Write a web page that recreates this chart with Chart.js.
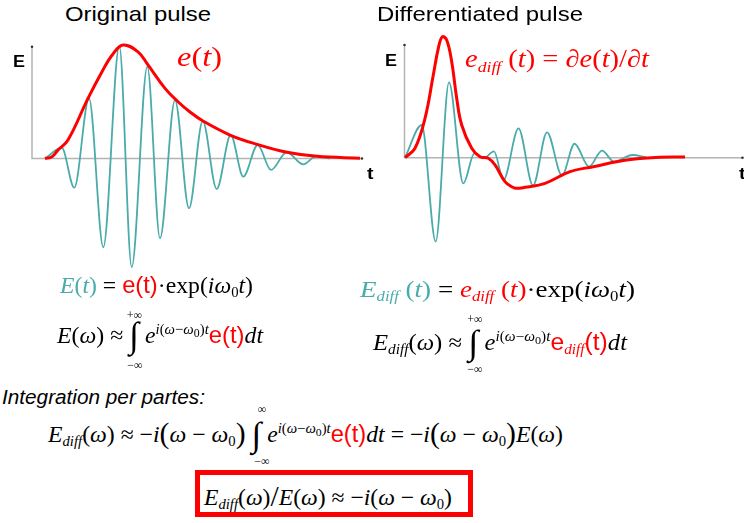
<!DOCTYPE html>
<html>
<head>
<meta charset="utf-8">
<script src="https://cdn.jsdelivr.net/npm/chart.js@4.4.0/dist/chart.umd.min.js"></script>
<style>
  html, body { margin: 0; padding: 0; background: #fff; }
  #page { position: relative; width: 744px; height: 523px; overflow: hidden; }
  canvas { position: absolute; }
  .tx { position: absolute; left: 0; top: 0; white-space: nowrap; line-height: 1; transform-origin: 0 0; color: #000; }
  .sansT { font-family: "Liberation Sans", Arial, sans-serif; }
  .m { font-family: "Liberation Serif", "Times New Roman", serif; }
  .sans { font-family: "Liberation Sans", Arial, sans-serif; font-style: normal; }
  .teal { color: #4aabab; }
  .red { color: #ff0000; }
  .sub { font-size: 0.62em; vertical-align: -0.3em; }
  .sup { font-size: 0.62em; vertical-align: 0.6em; }
  .ssub { font-size: 0.8em; vertical-align: -0.25em; }
  .int { font-size: 1.5em; vertical-align: -0.12em; }
  .bp { font-size: 1.25em; vertical-align: -0.05em; }
  .probe { display: inline-block; width: 0; height: 0; vertical-align: baseline; }
  #box { position: absolute; left: 195px; top: 470px; width: 268px; height: 37px; border: 5px solid #ff0000; }
</style>
</head>
<body>
<div id="page">
  <canvas id="origChart" width="372" height="250"></canvas>
  <canvas id="diffChart" width="364" height="232"></canvas>

  <div class="tx sansT" data-x="65" data-b="20.5" data-w="146" style="font-size:21px">Original pulse</div>
  <div class="tx sansT" data-x="377" data-b="20.5" data-w="206" style="font-size:21px">Differentiated pulse</div>
  <div class="tx sansT" data-x="13" data-b="66.7" data-w="12" style="font-size:16px;font-weight:bold">E</div>
  <div class="tx sansT" data-x="366.5" data-b="178.5" data-w="6.5" style="font-size:16px;font-weight:bold">t</div>
  <div class="tx sansT" data-x="385" data-b="66" data-w="12" style="font-size:16px;font-weight:bold">E</div>
  <div class="tx sansT" data-x="739" data-b="178.5" data-w="6.5" style="font-size:16px;font-weight:bold">t</div>

  <div class="tx m red" data-x="177" data-b="66" data-w="45" style="font-size:27px"><i>e</i>(<i>t</i>)</div>
  <div class="tx m red" data-x="465" data-b="67" data-w="184" style="font-size:25px"><i>e</i><span class="sub"><i>diff</i></span> (<i>t</i>) = ∂<i>e</i>(<i>t</i>)/∂<i>t</i></div>

  <div class="tx m" data-x="60" data-b="293" data-w="193" style="font-size:24px"><span class="teal"><i>E</i>(<i>t</i>)</span> = <span class="red sans">e(t)</span>·exp(<i>iω</i><span class="sub">0</span><i>t</i>)</div>
  <div class="tx m" data-x="57" data-b="343" data-w="206" style="font-size:24px"><i>E</i>(<i>ω</i>) ≈ <span class="int">∫</span> <i>e</i><span class="sup"><i>i</i>(<i>ω</i>−<i>ω</i><span class="ssub">0</span>)<i>t</i></span><span class="red sans">e(t)</span><i>dt</i></div>
  <div class="tx m" data-c="134.5" data-b="318.5" style="font-size:12px">+∞</div>
  <div class="tx m" data-c="135" data-b="368.5" style="font-size:12px">−∞</div>

  <div class="tx m" data-x="360" data-b="297" data-w="275" style="font-size:23px"><span class="teal"><i>E</i><span class="sub"><i>diff</i></span> (<i>t</i>)</span> = <span class="red"><i>e</i><span class="sub"><i>diff</i></span> (<i>t</i>)</span>·exp(<i>iω</i><span class="sub">0</span><i>t</i>)</div>
  <div class="tx m" data-x="373" data-b="350" data-w="254" style="font-size:23px"><i>E</i><span class="sub"><i>diff</i></span>(<i>ω</i>) ≈ <span class="int">∫</span> <i>e</i><span class="sup"><i>i</i>(<i>ω</i>−<i>ω</i><span class="ssub">0</span>)<i>t</i></span><span class="red"><span class="sans">e</span><span class="sub"><i>diff</i></span><span class="sans">(t)</span></span><i>dt</i></div>
  <div class="tx m" data-c="475" data-b="323" style="font-size:12px">+∞</div>
  <div class="tx m" data-c="475" data-b="373" style="font-size:12px">−∞</div>

  <div class="tx sansT" data-x="2" data-b="404" data-w="203" style="font-size:20px;font-style:italic">Integration per partes:</div>
  <div class="tx m" data-x="48" data-b="442" data-w="515" style="font-size:23px"><i>E</i><span class="sub"><i>diff</i></span>(<i>ω</i>) ≈ −<i>i</i><span class="bp">(</span><i>ω</i> − <i>ω</i><span class="sub">0</span><span class="bp">)</span> <span class="int">∫</span> <i>e</i><span class="sup"><i>i</i>(<i>ω</i>−<i>ω</i><span class="ssub">0</span>)<i>t</i></span><span class="red sans">e(t)</span><i>dt</i> = −<i>i</i><span class="bp">(</span><i>ω</i> − <i>ω</i><span class="sub">0</span><span class="bp">)</span><i>E</i>(<i>ω</i>)</div>
  <div class="tx m" data-c="262" data-b="413" style="font-size:12px">∞</div>
  <div class="tx m" data-c="262" data-b="465" style="font-size:12px">−∞</div>

  <div id="box"></div>
  <div class="tx m" data-x="204" data-b="505" data-w="248" style="font-size:23px"><i>E</i><span class="sub"><i>diff</i></span>(<i>ω</i>)<span class="bp">/</span><i>E</i>(<i>ω</i>) ≈ −<i>i</i>(<i>ω</i> − <i>ω</i><span class="sub">0</span>)</div>
</div>

<script>
// Original pulse: envelope e(t) and the field oscillating under it
const pulseEnvT = [1.3, 2.0, 2.6, 3.6, 5.6, 7.0, 8.0, 9.1, 10.6, 11.6, 13.3, 14.6, 15.8, 17.1, 19.8, 22.5, 25.5, 28.5, 32.8];
const pulseEnv = [0, 0.016, 0.075, 0.163, 0.53, 0.765, 0.91, 1.0, 0.94, 0.824, 0.618, 0.5, 0.41, 0.33, 0.207, 0.125, 0.055, 0.019, 0.002];
const pulseWaveT = [1.3, 2.97, 4.23, 5.7, 7.13, 8.73, 9.97, 11.53, 12.8, 14.3, 15.7, 17.07, 18.47, 19.87, 21.13, 22.57, 23.9, 25.47, 27.13, 28.4, 29.8];
const pulseWave = [0, 0.095, -0.257, 0.53, -0.782, 0.991, -0.956, 0.809, -0.703, 0.515, -0.439, 0.33, -0.269, 0.207, -0.16, 0.119, -0.101, 0.055, -0.051, 0.019, 0];

// Differentiated pulse: e_diff(t) and its field
const diffEnvT = [0.05, 1.05, 2.05, 2.88, 3.38, 3.78, 4.22, 4.72, 5.22, 5.72, 6.72, 7.55, 8.38, 9.05, 10.05, 10.72, 11.1, 12.05, 14.05, 16.55, 18.88, 22.22, 25.55, 28.05];
const diffEnv = [0, 0.083, 0.347, 0.729, 0.964, 1.066, 1.037, 0.846, 0.523, 0.288, 0.083, 0.009, -0.005, -0.064, -0.211, -0.255, -0.27, -0.261, -0.226, -0.123, -0.079, -0.02, 0.004, 0.006];
const diffWaveT = [0.05, 1.72, 3.12, 4.45, 5.88, 7.0, 7.9, 8.95, 9.9, 11.4, 12.85, 14.25, 15.75, 17.0, 18.45, 19.75, 20.95, 22.8, 24.15];
const diffWave = [0, 0.288, -0.74, 0.664, -0.226, 0.04, -0.005, 0.055, -0.196, 0.259, -0.245, 0.224, -0.157, 0.123, -0.079, 0.063, -0.035, 0.024, 0.004];

// axis extents (t end, E top) for each panel
const pulseAxis = [33, 0.985];
const diffAxis = [33.8, 0.993];

const RED = '#ff0000';
const TEAL = '#4aabab';

function zip(xs, ys) {
    return xs.map((x, i) => ({ x: x, y: ys[i] }));
}

// draws the two axes meeting at t=0, E=0
const axesPlugin = {
    id: 'pulseAxes',
    beforeDatasetsDraw(chart, args, opts) {
        const { ctx, scales: { x, y } } = chart;
        const x0 = x.getPixelForValue(0), y0 = y.getPixelForValue(0);
        const x1 = x.getPixelForValue(opts.tEnd), y1 = y.getPixelForValue(opts.eTop);
        ctx.save();
        ctx.strokeStyle = '#b4b4b4';
        ctx.lineWidth = 1.5;
        ctx.beginPath();
        ctx.moveTo(x0, y1);
        ctx.lineTo(x0, y0);
        ctx.lineTo(x1, y0);
        ctx.stroke();
        ctx.fillStyle = '#333';
        ctx.beginPath();
        ctx.arc(x0, y1, 1.3, 0, Math.PI * 2);
        ctx.arc(x1, y0, 1.3, 0, Math.PI * 2);
        ctx.fill();
        ctx.restore();
    }
};

// frame: canvas box on the page, plus where t=0/E=0 sits and px per unit
function makePanel(id, frame, envT, env, waveT, wave, axis) {
    const canvas = document.getElementById(id);
    canvas.style.left = frame.left + 'px';
    canvas.style.top = frame.top + 'px';
    const xMin = (frame.left - frame.ox) / frame.sx;
    const xMax = (frame.left + canvas.width - frame.ox) / frame.sx;
    const yMax = (frame.oy - frame.top) / frame.sy;
    const yMin = (frame.oy - frame.top - canvas.height) / frame.sy;
    return new Chart(canvas.getContext('2d'), {
        type: 'line',
        data: {
            datasets: [
                {
                    data: zip(envT, env),
                    borderColor: RED,
                    borderWidth: 3,
                    pointRadius: 0,
                    tension: 0.4,
                    fill: false
                },
                {
                    data: zip(waveT, wave),
                    borderColor: TEAL,
                    borderWidth: 1.8,
                    pointRadius: 0,
                    cubicInterpolationMode: 'monotone',
                    fill: false
                }
            ]
        },
        options: {
            responsive: false,
            animation: false,
            devicePixelRatio: 1,
            events: [],
            layout: { padding: 0 },
            plugins: {
                legend: { display: false },
                tooltip: { enabled: false },
                pulseAxes: { tEnd: axis[0], eTop: axis[1] }
            },
            scales: {
                x: { type: 'linear', display: false, min: xMin, max: xMax },
                y: { type: 'linear', display: false, min: yMin, max: yMax }
            }
        },
        plugins: [axesPlugin]
    });
}

makePanel('origChart', { left: 0, top: 28, ox: 32, oy: 158.5, sx: 10, sy: 113.5 },
    pulseEnvT, pulseEnv, pulseWaveT, pulseWave, pulseAxis);
makePanel('diffChart', { left: 380, top: 24, ox: 404.5, oy: 157.7, sx: 10, sy: 113.5 },
    diffEnvT, diffEnv, diffWaveT, diffWave, diffAxis);

// put every text block on its baseline and stretch it to its width
document.querySelectorAll('.tx').forEach(el => {
    const probe = document.createElement('span');
    probe.className = 'probe';
    el.appendChild(probe);
    const box = el.getBoundingClientRect();
    const base = probe.getBoundingClientRect().top - box.top;
    const w0 = box.width;
    const sx = el.dataset.w ? (+el.dataset.w) / w0 : 1;
    let left = el.dataset.c ? (+el.dataset.c) - w0 * sx / 2 : +el.dataset.x;
    el.style.left = left + 'px';
    el.style.top = (+el.dataset.b - base) + 'px';
    el.style.transform = 'scaleX(' + sx + ')';
});
</script>
</body>
</html>
